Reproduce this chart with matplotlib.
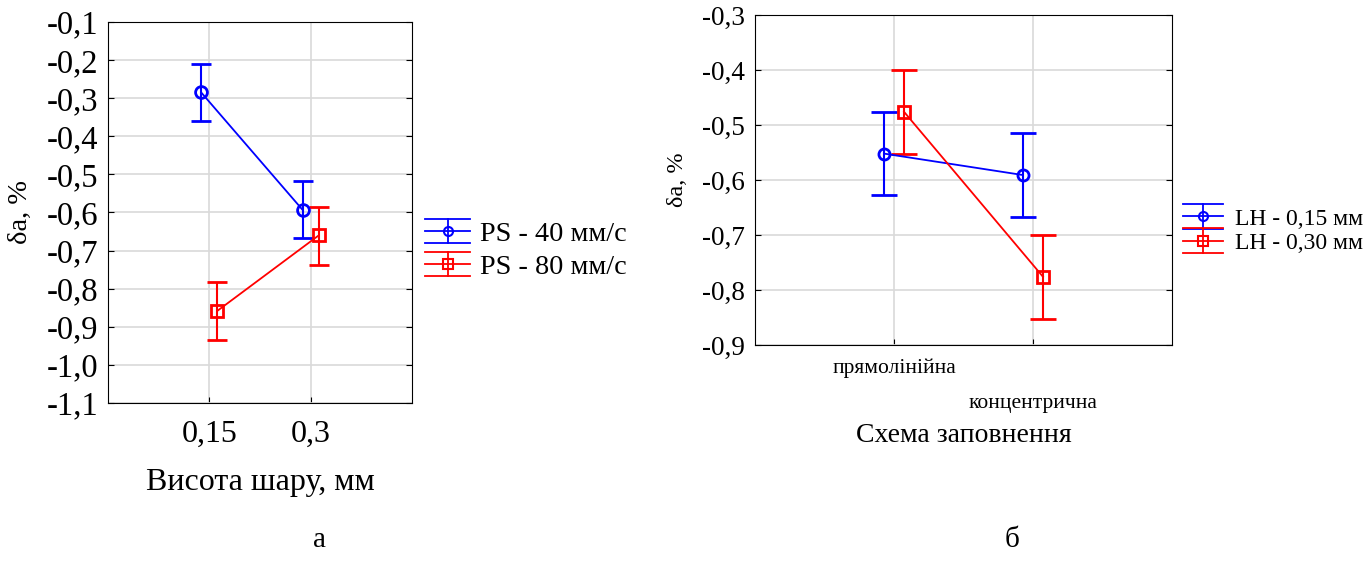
import matplotlib.pyplot as plt
from matplotlib.legend_handler import HandlerBase
from matplotlib.lines import Line2D
import numpy as np

plt.rcParams['font.family'] = ['Liberation Serif', 'DejaVu Serif']

# panel a: layer height vs deviation
layer_labels = ['0,15', '0,3']
ps40_mean = [-0.285, -0.593]
ps40_lo = [-0.360, -0.668]
ps40_hi = [-0.210, -0.518]
ps80_mean = [-0.858, -0.660]
ps80_lo = [-0.935, -0.737]
ps80_hi = [-0.782, -0.585]

# panel b: infill pattern vs deviation
fill_labels = ['прямолінійна', 'концентрична']
lh15_mean = [-0.552, -0.591]
lh15_lo = [-0.627, -0.668]
lh15_hi = [-0.476, -0.515]
lh30_mean = [-0.476, -0.776]
lh30_lo = [-0.553, -0.853]
lh30_hi = [-0.400, -0.700]

BLUE = '#0000ff'
RED = '#ff0000'


class ErrHandler(HandlerBase):
    # legend key like the reference: line + marker, full-width caps, vertical bar
    def __init__(self, half, **kw):
        super().__init__(**kw)
        self.half = half

    def create_artists(self, legend, orig_handle, xdescent, ydescent,
                       width, height, fontsize, trans):
        c = orig_handle.get_color()
        x0, x1 = -xdescent, -xdescent + width
        yc = -ydescent + height / 2
        h = self.half
        xm = (x0 + x1) / 2
        arts = [
            Line2D([x0, x1], [yc, yc], color=c, lw=1.3),
            Line2D([x0, x1], [yc + h, yc + h], color=c, lw=1.3),
            Line2D([x0, x1], [yc - h, yc - h], color=c, lw=1.3),
            Line2D([xm, xm], [yc - h, yc + h], color=c, lw=1.3),
            Line2D([xm], [yc], color=c, marker=orig_handle.get_marker(),
                   ms=6.5, mfc='none', mec=c, mew=1.5),
        ]
        for a in arts:
            a.set_transform(trans)
        return arts


def draw_series(ax, x, mean, lo, hi, color, marker, ms, cap):
    mean = np.array(mean)
    yerr = [mean - np.array(lo), np.array(hi) - mean]
    ax.errorbar(x, mean, yerr=yerr, color=color, marker=marker, ms=ms,
                mfc='none', mec=color, mew=2, lw=1.3, elinewidth=1.5,
                capsize=cap, capthick=1.5)


def proxies(labels):
    return [Line2D([], [], color=BLUE, marker='o', label=labels[0]),
            Line2D([], [], color=RED, marker='s', label=labels[1])]


W, H = 1372, 562
fig = plt.figure(figsize=(W / 100, H / 100), dpi=100)

# ---- panel a ----
ax1 = fig.add_axes([108 / W, 1 - 403 / H, 304 / W, 381 / H])
xa = np.arange(1, len(layer_labels) + 1)
draw_series(ax1, xa - 0.08, ps40_mean, ps40_lo, ps40_hi, BLUE, 'o', 8.5, 7.5)
draw_series(ax1, xa + 0.08, ps80_mean, ps80_lo, ps80_hi, RED, 's', 8.5, 7.5)
ax1.set_xlim(0, 3)
ax1.set_ylim(-1.1, -0.1)
ax1.set_xticks(xa)
ax1.set_xticklabels(layer_labels, fontsize=23)
yt = np.round(np.arange(-1.1, -0.05, 0.1), 1)
ax1.set_yticks(yt)
ax1.set_yticklabels([f'{v:.1f}'.replace('.', ',') for v in yt], fontsize=23.5)
ax1.set_xlabel('Висота шару, мм', fontsize=23)
ax1.xaxis.set_label_coords(0.5, -0.17)
ax1.set_ylabel('δa, %', fontsize=20.5)
ax1.yaxis.set_label_coords(-0.247, 0.5)
ax1.grid(True, color='#d9d9d9', lw=1.2)
ax1.set_axisbelow(True)
ax1.tick_params(axis='y', direction='in', length=4, right=True, pad=7)
ax1.tick_params(axis='x', direction='in', length=4, pad=12)
ax1.legend(handles=proxies(['PS - 40 мм/с', 'PS - 80 мм/с']),
           handler_map={Line2D: ErrHandler(8.6)},
           loc='center left', bbox_to_anchor=(1.043, 0.40), frameon=False,
           fontsize=20.3, handlelength=1.6, handletextpad=0.35, borderpad=0,
           borderaxespad=0, labelspacing=0.25)

# ---- panel b ----
ax2 = fig.add_axes([755 / W, 1 - 345 / H, 417 / W, 330 / H])
xb = np.arange(1, len(fill_labels) + 1)
draw_series(ax2, xb - 0.072, lh15_mean, lh15_lo, lh15_hi, BLUE, 'o', 8, 9.5)
draw_series(ax2, xb + 0.072, lh30_mean, lh30_lo, lh30_hi, RED, 's', 8, 9.5)
ax2.set_xlim(0, 3)
ax2.set_ylim(-0.9, -0.3)
ax2.set_xticks(xb)
ax2.set_xticklabels(fill_labels, fontsize=15.5)
yt2 = np.round(np.arange(-0.9, -0.25, 0.1), 1)
ax2.set_yticks(yt2)
ax2.set_yticklabels([f'{v:.1f}'.replace('.', ',') for v in yt2], fontsize=19.5)
ax2.tick_params(axis='y', direction='in', length=4, right=True, pad=7)
ax2.tick_params(axis='x', direction='in', length=4)
ax2.xaxis.get_major_ticks()[0].set_pad(10)
ax2.xaxis.get_major_ticks()[1].set_pad(35)
ax2.set_xlabel('Схема заповнення', fontsize=20)
ax2.xaxis.set_label_coords(0.5, -0.235)
ax2.set_ylabel('δa, %', fontsize=17.5)
ax2.yaxis.set_label_coords(-0.161, 0.5)
ax2.grid(True, color='#d9d9d9', lw=1.2)
ax2.set_axisbelow(True)
ax2.legend(handles=proxies(['LH - 0,15 мм', 'LH - 0,30 мм']),
           handler_map={Line2D: ErrHandler(9.0)},
           loc='center left', bbox_to_anchor=(1.026, 0.345), frameon=False,
           fontsize=17, handlelength=1.7, handletextpad=0.5, borderpad=0,
           borderaxespad=0, labelspacing=0.12)

fig.text(320 / W, 1 - 540 / H, 'а', fontsize=21, ha='center', va='center')
fig.text(1012 / W, 1 - 540 / H, 'б', fontsize=21, ha='center', va='center')

fig.savefig('out.png', dpi=100)
